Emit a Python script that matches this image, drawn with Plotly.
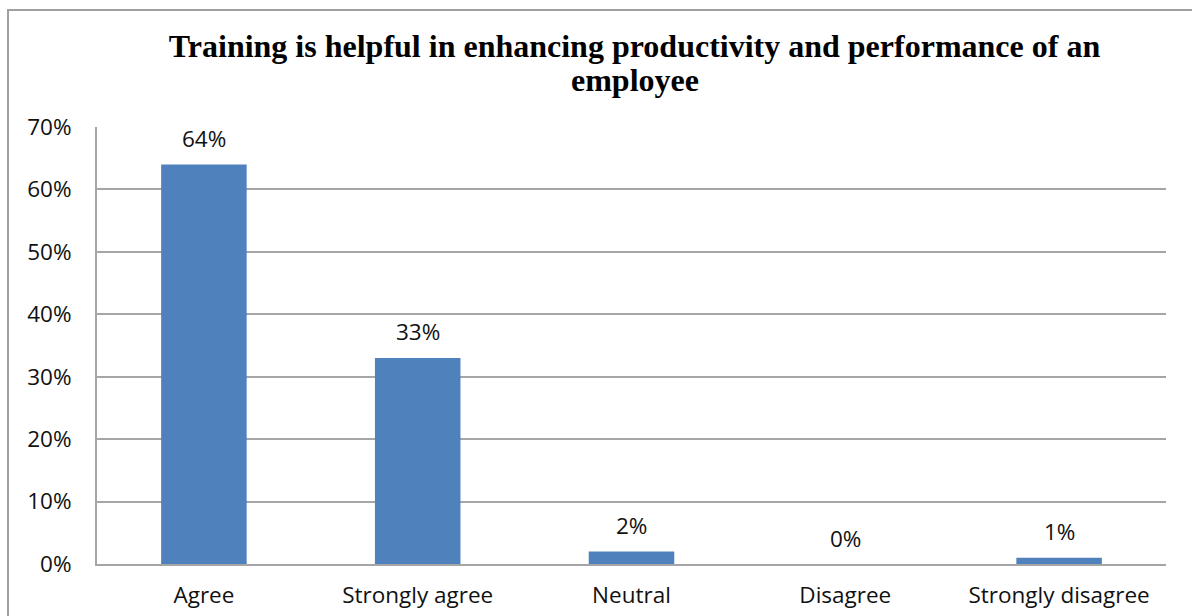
import plotly.graph_objects as go

# Survey responses
categories = ["Agree", "Strongly agree", "Neutral", "Disagree", "Strongly disagree"]
shares = [0.64, 0.33, 0.02, 0.00, 0.01]
y_ticks = [0.0, 0.1, 0.2, 0.3, 0.4, 0.5, 0.6, 0.7]
y_tick_text = ["0%", "10%", "20%", "30%", "40%", "50%", "60%", "70%"]

W, H = 1192, 616
L, R, T, B = 97, 26, 127, 52
PW, PH = W - L - R, H - T - B

BAR = "#4f81bd"
GRID = "#a6a6a6"
LABEL_FONT = dict(family="Open Sans", size=22.5, color="#111111")
TITLE_FONT = dict(family="Liberation Serif", size=32, color="#000000", weight="bold")


def px_x(px):
    return (px - L) / PW


def px_y(py):
    return 1 - (py - T) / PH


fig = go.Figure(
    go.Bar(
        x=categories,
        y=shares,
        marker=dict(color=BAR, line=dict(width=0)),
        width=0.4,
        hoverinfo="skip",
    )
)

# value labels above each bar
for cat, val in zip(categories, shares):
    fig.add_annotation(
        x=cat, y=val, xref="x", yref="y",
        text=f"{round(val * 100)}%",
        showarrow=False, yanchor="middle", yshift=26,
        font=LABEL_FONT,
    )

# second title line
fig.add_annotation(
    text="employee", xref="paper", yref="paper",
    x=px_x(635), y=px_y(80), xanchor="center", yanchor="middle",
    showarrow=False, font=TITLE_FONT,
)

# outer chart frame (continues past the right and bottom edges)
fig.add_shape(
    type="rect", xref="paper", yref="paper",
    x0=px_x(8), x1=px_x(1210), y0=px_y(10), y1=px_y(640),
    line=dict(color="#a0a0a0", width=2), fillcolor="rgba(0,0,0,0)",
    layer="below",
)
# small toolbar tabs at the top edge
for x0, x1 in [(550, 589), (627, 666)]:
    fig.add_shape(
        type="rect", xref="paper", yref="paper",
        x0=px_x(x0), x1=px_x(x1), y0=px_y(0), y1=px_y(-4),
        line=dict(width=0), fillcolor="#e6e8eb", layer="below",
    )

fig.update_layout(
    width=W, height=H, autosize=False,
    margin=dict(l=L, r=R, t=T, b=B, pad=0, autoexpand=False),
    paper_bgcolor="white", plot_bgcolor="white",
    showlegend=False,
    title=dict(
        text="Training is helpful in enhancing productivity and performance of an",
        font=TITLE_FONT,
        x=634.5 / W, xanchor="center", xref="container",
        y=1 - 46 / H, yanchor="middle", yref="container",
        automargin=False,
    ),
    bargap=0.6,
)

fig.update_xaxes(
    showgrid=False, showline=True, linecolor=GRID, linewidth=2,
    ticks="", tickfont=LABEL_FONT, ticklabelstandoff=10,
    automargin=False, fixedrange=True,
)
fig.update_yaxes(
    range=[0, 0.7], tickvals=y_ticks, ticktext=y_tick_text,
    showgrid=True, gridcolor=GRID, gridwidth=2,
    showline=True, linecolor=GRID, linewidth=2,
    zeroline=False, ticks="", tickfont=LABEL_FONT, ticklabelstandoff=19,
    automargin=False, fixedrange=True,
)

fig.write_html("out.html")
